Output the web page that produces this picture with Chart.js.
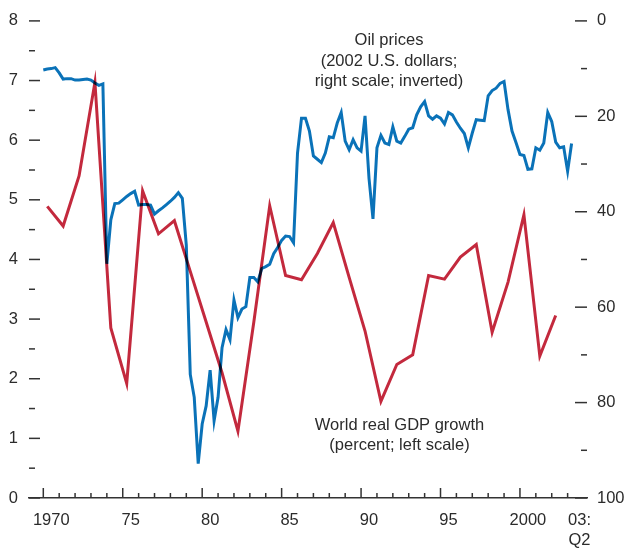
<!DOCTYPE html>
<html><head><meta charset="utf-8">
<script src="https://cdn.jsdelivr.net/npm/chart.js@4/dist/chart.umd.min.js"></script>
<style>html,body{margin:0;padding:0;background:#fff;}#wrap{width:625px;height:548px;position:relative;}</style>
</head><body><div id="wrap"><canvas id="c" width="625" height="548"></canvas></div>
<script>
// ---- data ----
const gdpYears = [1970,1971,1972,1973,1974,1975,1976,1977,1978,1979,1980,1981,1982,1983,1984,1985,1986,1987,1988,1989,1990,1991,1992,1993,1994,1995,1996,1997,1998,1999,2000,2001,2002];
const gdpGrowth = [4.89,4.56,5.40,6.97,2.85,1.92,5.15,4.43,4.65,3.80,2.95,2.10,1.12,2.95,4.90,3.73,3.66,4.10,4.62,3.70,2.80,1.62,2.24,2.40,3.73,3.67,4.04,4.25,2.78,3.62,4.75,2.38,3.06];
const oilStartYear = 1970; // quarterly, 1970:Q1 - 2003:Q2
const oilPrices = [
 10.3,10.1,10.0,9.8, 10.9,12.2,12.1,12.1, 12.4,12.4,12.3,12.2, 12.4,13.0,13.5,13.2,
 50.9,41.7,38.3,38.2, 37.5,36.8,36.2,35.7, 38.6,38.5,38.5,38.6, 40.5,39.8,39.2,38.5,
 37.8,37.0,36.0,37.2, 47.0,74.1,78.9,92.8, 84.5,80.7,73.2,83.8, 78.9,68.5,64.7,66.8,
 58.5,62.2,60.4,59.9, 53.8,53.8,54.7,51.9, 51.5,51.0,48.8,47.5, 46.0,45.1,45.2,46.5,
 27.7,20.4,20.4,23.1, 28.3,29.0,29.7,27.7, 24.3,24.5,21.4,19.2, 25.2,27.0,24.9,26.6,
 27.3,19.9,33.0,41.5, 26.6,24.0,25.6,25.9, 22.2,25.2,25.6,24.2, 22.7,22.4,19.7,18.0,
 16.9,19.9,20.6,19.9, 20.4,21.6,19.2,19.7, 21.2,22.5,23.6,26.6, 23.5,20.7,20.8,20.9,
 15.7,14.6,14.1,13.1, 12.7,18.6,23.1,25.5, 28.0,28.2,31.1,31.0, 26.6,27.1,25.6,19.2,
 21.1,25.4,26.6,26.4, 31.5,25.7];
const xLabelAt = [1970.5,1975.5,1980.5,1985.5,1990.5,1995.5,2000.5,2003.75];
const xTickLabels = ['1970','75','80','85','90','95','2000',['03:','Q2']];
const xMinorYears = [];
for (let yr = 1970; yr <= 2003; yr++) xMinorYears.push(yr);
const xMajorYears = [1970,1975,1980,1985,1990,1995,2000];
const leftTicks = [0,1,2,3,4,5,6,7,8];
const rightTicks = [0,20,40,60,80,100];
const oilLabel = ['Oil prices','(2002 U.S. dollars;','right scale; inverted)'];
const gdpLabel = ['World real GDP growth','(percent; left scale)'];

// ---- style ----
const FONT = '"Liberation Sans",Arial,sans-serif';
const TXT = '#2b2b2b';
const BLUE = '#0a72b8';
const RED = '#c3293d';

const blendPlugin = {
  id: 'blend',
  beforeDatasetsDraw(chart){ chart.ctx.save(); chart.ctx.globalCompositeOperation = 'multiply'; },
  afterDatasetsDraw(chart){ chart.ctx.restore(); }
};

const decoPlugin = {
  id: 'deco',
  afterDraw(chart){
    const ctx = chart.ctx, ca = chart.chartArea;
    const sx = chart.scales.x, sy = chart.scales.y, sy2 = chart.scales.y2;
    ctx.save();
    ctx.strokeStyle = '#333'; ctx.lineWidth = 1.5;
    const line = (a,b,c,d)=>{ctx.beginPath();ctx.moveTo(a,b);ctx.lineTo(c,d);ctx.stroke();};
    xMinorYears.forEach(yr=>{
      const px = sx.getPixelForValue(yr);
      const len = xMajorYears.includes(yr) ? 10 : 5;
      line(px, ca.bottom, px, ca.bottom - len);
    });
    for (let v = 0; v <= 8; v += 0.5) {
      const py = sy.getPixelForValue(v);
      const len = Number.isInteger(v) ? 11 : 6;
      line(ca.left, py, ca.left + len, py);
    }
    for (let v = 0; v <= 100; v += 10) {
      const py = sy2.getPixelForValue(v);
      const len = (v % 20 === 0) ? 12 : 6;
      line(ca.right - len, py, ca.right, py);
    }
    ctx.fillStyle = TXT; ctx.textAlign = 'center'; ctx.textBaseline = 'middle';
    ctx.font = '16.5px ' + FONT;
    oilLabel.forEach((t,i)=>ctx.fillText(t, 389, 40.5 + i*20.5));
    gdpLabel.forEach((t,i)=>ctx.fillText(t, 399.5, 425 + i*20.5));
    ctx.restore();
  }
};

new Chart(document.getElementById('c'), {
  type: 'line',
  data: {
    datasets: [
      {
        label: 'World real GDP growth',
        data: gdpYears.map((yr,i)=>({x: yr + 0.25, y: gdpGrowth[i]})),
        yAxisID: 'y', borderColor: RED, borderWidth: 3, pointRadius: 0,
        tension: 0, borderJoinStyle: 'miter', fill: false
      },
      {
        label: 'Oil prices',
        data: oilPrices.map((v,i)=>({x: oilStartYear + i/4, y: v})),
        yAxisID: 'y2', borderColor: BLUE, borderWidth: 3, pointRadius: 0,
        tension: 0, borderJoinStyle: 'miter', fill: false
      }
    ]
  },
  options: {
    responsive: false, animation: false,
    layout: { padding: { top: 17, left: 0, right: 0, bottom: 0 } },
    plugins: { legend: { display: false }, tooltip: { enabled: false } },
    scales: {
      x: {
        type: 'linear', position: 'bottom', min: 1969.1, max: 2004.22,
        grid: { display: false, drawTicks: false, tickLength: 0 },
        border: { display: true, color: '#333', width: 1.5 },
        afterBuildTicks: (axis)=>{ axis.ticks = xLabelAt.map(v=>({value: v})); },
        afterFit: (axis)=>{ axis.height = 50; },
        ticks: {
          autoSkip: false, maxRotation: 0, minRotation: 0, padding: 12,
          color: TXT, font: { family: FONT, size: 16.5, lineHeight: 1.22 },
          callback: (v, i)=> xTickLabels[i]
        }
      },
      y: {
        type: 'linear', position: 'left', min: 0, max: 8,
        grid: { display: false, drawTicks: false, tickLength: 0 },
        border: { display: false },
        afterBuildTicks: (axis)=>{ axis.ticks = leftTicks.map(v=>({value: v})); },
        afterFit: (axis)=>{ axis.width = 29; },
        ticks: { padding: 11, color: TXT, font: { family: FONT, size: 16.5 } }
      },
      y2: {
        type: 'linear', position: 'right', min: 0, max: 100, reverse: true,
        grid: { display: false, drawTicks: false, tickLength: 0 },
        border: { display: false },
        afterBuildTicks: (axis)=>{ axis.ticks = rightTicks.map(v=>({value: v})); },
        afterFit: (axis)=>{ axis.width = 38; },
        ticks: { padding: 10, color: TXT, font: { family: FONT, size: 16.5 } }
      }
    }
  },
  plugins: [blendPlugin, decoPlugin]
});
</script></body></html>
